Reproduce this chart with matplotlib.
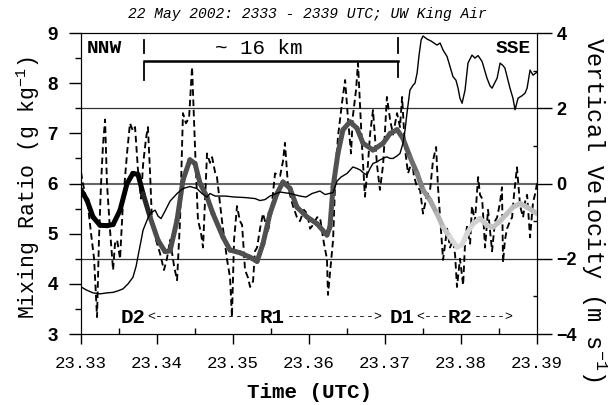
import matplotlib
matplotlib.use("Agg")
import matplotlib.pyplot as plt
import matplotlib.transforms as mtransforms
from matplotlib.collections import LineCollection
from matplotlib.ticker import MultipleLocator
import numpy as np

MONO = "Liberation Mono"
SANS = "Liberation Sans"
T0 = 23.33  # decimal hours (UTC) at the first sample

# mixing ratio (g/kg), seconds after T0
mr_sec = [0, 2.4, 5.7, 9.0, 12.3, 15.2, 17.5, 19.9, 22.3, 24.6, 26.1, 27.0, 28.4,
          29.4, 31.3, 32.7, 35.1, 36.5, 37.9, 39.8, 42.2, 45.5, 48.3, 51.6, 54.9,
          57.3, 59.7, 61.1, 63.5, 68.2, 72.9, 77.7, 82.4, 84.8, 87.2, 89.5, 94.3,
          99.0, 103.7, 106.6, 109.4, 113.2, 115.6, 119.4, 121.3, 123.2, 126.0,
          128.8, 130.7, 132.2, 134.1, 135.5, 136.9, 138.3, 140.2, 141.6, 144.0,
          144.9, 146.4, 147.8, 149.7, 151.1, 152.5, 153.5, 154.4, 155.8, 157.3,
          158.2, 159.2, 160.1, 161.1, 162.0, 163.9, 165.8, 167.2, 168.6, 170.1,
          171.5, 173.4, 174.8, 176.2, 177.6, 178.6, 179.5, 180.5, 181.9, 183.3,
          185.2, 186.6, 188.1, 190.0, 192.3, 193.7, 194.7, 197.1, 198.5, 199.9,
          200.8, 203.2, 204.6, 205.6, 207.0, 208.9, 210.3, 211.3, 212.7, 214.1, 216.0]
mr_val = [3.94, 3.88, 3.82, 3.80, 3.82, 3.83, 3.86, 3.90, 4.00, 4.13, 4.35, 4.55, 4.85,
          5.07, 5.27, 5.40, 5.47, 5.35, 5.30, 5.45, 5.65, 5.80, 5.90, 5.94, 5.90,
          5.80, 5.73, 5.80, 5.75, 5.75, 5.73, 5.72, 5.70, 5.66, 5.68, 5.75, 5.83,
          5.80, 5.75, 5.73, 5.80, 5.85, 5.78, 5.82, 6.05, 6.13, 6.20,
          6.33, 6.30, 6.27, 6.20, 6.17, 6.30, 6.40, 6.43, 6.47, 6.52,
          6.53, 6.50, 6.50, 6.55, 6.60, 6.80, 7.07, 7.40, 7.86, 7.96,
          8.00, 8.20, 8.55, 8.86, 8.94, 8.88, 8.84, 8.80, 8.76, 8.80,
          8.66, 8.53, 8.33, 8.13, 8.06, 7.90, 7.70, 7.60, 7.86, 8.40,
          8.56, 8.50, 8.55, 8.43, 8.10, 7.95, 7.90, 8.10, 8.40, 8.35,
          8.30, 7.90, 7.70, 7.47, 7.70, 7.75, 7.80, 7.90, 8.26, 8.16, 8.22]

# vertical velocity (m/s)
w_sec = [0, 0.9, 1.9, 3.3, 4.7, 6.2, 7.6, 8.5, 9.5, 10.4, 11.4, 12.3, 13.7, 15.2,
         16.1, 17.1, 18.5, 19.9, 21.8, 23.2, 24.6, 25.6, 27.0, 28.4, 29.4, 30.8,
         31.7, 32.7, 33.6, 35.5, 37.4, 39.3, 40.7, 42.2, 44.1, 45.5, 46.9, 48.3,
         49.7, 51.2, 52.6, 54.0, 55.4, 56.8, 57.8, 58.7, 59.7, 61.1, 62.1, 63.5,
         64.4, 66.8, 69.2, 70.6, 71.5, 72.5, 73.9, 75.3, 76.3, 77.7, 79.1, 80.1,
         81.5, 82.4, 83.4, 84.8, 86.2, 88.6, 90.5, 91.9, 94.3, 95.7, 96.6, 98.1,
         100.4, 102.3, 103.7, 105.6, 107.1, 108.5, 109.9, 111.8, 113.2, 115.1,
         116.5, 117.0, 117.9, 119.4, 120.3, 121.7, 123.6, 125.1, 126.5, 127.9,
         128.8, 130.3, 131.2, 133.1, 134.5, 135.9, 136.9, 138.3, 140.2, 141.6,
         143.1, 144.9, 146.4, 147.8, 149.7, 151.1, 152.1, 153.5, 154.9, 156.8,
         157.7, 159.2, 160.6, 162.0, 163.9, 165.3, 166.7, 168.2, 169.1, 170.1,
         171.5, 173.4, 174.8, 176.2, 177.2, 178.1, 179.5, 181.0, 181.9, 182.8,
         184.3, 185.2, 186.6, 188.1, 189.0, 190.0, 191.4, 192.8, 194.7, 196.1,
         197.1, 198.5, 199.4, 199.9, 200.8, 201.8, 203.2, 204.2, 205.1, 206.5,
         208.0, 209.4, 210.3, 211.3, 212.7, 214.1, 215.0, 216.0]
w_val = [0.3, 0.0, -0.25, -0.6, -1.3, -2.0, -3.55, -1.5, 0.0, 1.0, 1.7, 0.0, -1.2, -2.3,
         -1.6, -1.5, -2.0, -0.5, 0.8, 1.6, 1.4, 1.5, 0.35, -0.4, 0.5, 1.2,
         1.5, 0.3, -0.97, -1.5, -1.85, -2.3, -2.0, -1.5, -2.2, -2.57, -1.0, 1.87,
         1.6, 1.75, 3.1, 0.97, -0.97, -1.3, -1.7, -0.5, 0.8, 0.55, 0.7, 0.3,
         0.17, -1.0, -2.03, -2.5, -3.55, -1.5, -0.6, -1.0, -1.1, -2.3, -2.5, -2.75,
         -2.6, -1.8, -1.7, -1.2, -0.8, -1.3, -0.5, 0.27, 0.2, 0.6, 1.08, -0.1,
         -0.6, -0.9, -1.0, -0.7, -0.8, -1.2, -1.1, -0.9, -0.9, -1.6,
         -2.0, -2.96, -2.4, -1.5, -0.1, 1.23, 2.13, 2.75, 1.7, 0.8,
         1.8, 2.5, 3.2, 1.0, -0.35, 0.5, 1.3, 1.95, 0.5, -0.17,
         0.5, 2.3, 1.7, 1.3, 1.87, 1.5, 2.3, 0.9, 0.27, 0.6,
         0.2, -0.1, -0.17, -0.8, -0.3, -0.2, 0.6, 0.97, -0.1, -0.9,
         -2.03, -1.2, -1.7, -1.5, -1.9, -2.75, -2.0, -2.7, -1.6, -1.15,
         -1.6, -0.6, -1.0, 0.17, -0.3, -0.4, -1.7, -0.7, -1.8, -1.0,
         -0.9, -0.5, -0.1, -2.1, -1.5, -1.2, -1.0, -0.9, -0.3, 0.43,
         -0.6, -0.9, -0.5, -0.3, -1.43, -0.5, -0.3, 0.0]

# filtered vertical velocity (m/s)
ws_sec = [0, 2.8, 5.7, 9.0, 12.3, 15.2, 18.5, 21.8, 24.6, 27.0, 29.4, 32.7, 36.5,
          39.8, 42.2, 45.5, 48.3, 51.6, 54.0, 56.4, 59.7, 62.5, 67.3, 70.6, 75.3,
          80.1, 83.4, 86.2, 89.5, 92.8, 95.7, 99.0, 102.3, 107.1, 111.8, 116.5,
          117.9, 119.4, 121.7, 124.1, 127.4, 130.7, 133.6, 138.3, 143.1, 146.4,
          149.7, 152.5, 155.8, 159.2, 162.0, 165.3, 168.6, 171.5, 174.8, 178.1,
          180.5, 182.8, 185.7, 189.0, 192.3, 195.2, 198.5, 201.8, 204.6, 208.0,
          211.3, 216.0]
ws_val = [-0.17, -0.44, -0.89, -1.11, -1.12, -1.09, -0.71, 0.0, 0.27, 0.24, -0.27,
          -0.89, -1.51, -1.81, -1.79, -0.97, 0.09, 0.63, 0.53, 0.0, -0.36, -0.8,
          -1.43, -1.77, -1.84, -1.96, -2.07, -1.6, -0.8, -0.27, 0.04, -0.13, -0.63,
          -0.89, -1.07, -1.37, -1.16, -0.09, 0.8, 1.43, 1.64, 1.47, 1.07, 0.89,
          1.07, 1.33, 1.43, 1.2, 0.71, 0.27, -0.17, -0.44, -0.8, -1.16, -1.43,
          -1.69, -1.63, -1.33, -1.07, -0.93, -1.11, -1.16, -1.0, -0.8, -0.63,
          -0.53, -0.63, -0.8]

# grey shade of the filtered curve along the leg (0 = black)
shade_sec = [0, 28, 34, 153, 165, 177, 184, 196, 216]
shade_gray = [0.0, 0.0, 0.30, 0.33, 0.60, 0.86, 0.84, 0.76, 0.74]

leg_sec = [29.8, 150.2]            # ~16 km straight-line segment
region_sec = [24.6, 90.5, 152.1, 179.5]
region_lbl = ["D2", "R1", "D1", "R2"]
arrow_sec = [31.3, 97.6, 158.7, 186.2]
arrow_txt = ["<-------------", "----------->", "<---", "---->"]

x_ticks = [23.33, 23.34, 23.35, 23.36, 23.37, 23.38, 23.39]
mr_ticks = [3, 4, 5, 6, 7, 8, 9]
w_ticks = [-4, -2, 0, 2, 4]


def hours(sec):
    return T0 + np.asarray(sec) / 3600.0


plt.rcParams["mathtext.default"] = "regular"

fig = plt.figure(figsize=(6.15, 4.05), dpi=100)
ax = fig.add_axes([0.1317, 0.1753, 0.7415, 0.7432])
ax2 = ax.twinx()
ax.set_zorder(ax2.get_zorder() + 1)
ax.patch.set_visible(False)

# reference lines at +/-2 and 0 m/s
for v, lw, c in [(2, 0.9, "#333333"), (0, 1.5, "#666666"), (-2, 0.9, "#333333")]:
    ax2.axhline(v, color=c, lw=lw, zorder=1)

ax2.plot(hours(w_sec), w_val, color="black", lw=1.35, dashes=(3.5, 2), zorder=2)

# filtered w as a thick line shaded black -> grey
pts = np.column_stack([hours(ws_sec), ws_val]).reshape(-1, 1, 2)
segs = np.concatenate([pts[:-1], pts[1:]], axis=1)
mid = (np.asarray(ws_sec[:-1]) + np.asarray(ws_sec[1:])) / 2
g = np.interp(mid, shade_sec, shade_gray)
lc = LineCollection(segs, colors=[(v, v, v) for v in g], linewidths=3.6,
                    capstyle="round", joinstyle="round", zorder=3)
ax2.add_collection(lc)

ax.plot(hours(mr_sec), mr_val, color="black", lw=1.0)

ax.set_xlim(T0, 23.39)
ax.set_ylim(3, 9)
ax2.set_ylim(-4, 4)

ax.set_xticks(x_ticks)
ax.set_xticklabels([f"{t:.2f}" for t in x_ticks], fontfamily=MONO, fontsize=12.5)
ax.xaxis.set_minor_locator(MultipleLocator(0.005))
ax.tick_params(axis="x", which="major", direction="out", length=7, width=1, pad=9)
ax.tick_params(axis="x", which="minor", direction="in", length=4, width=1)

ax.set_yticks(mr_ticks)
ax.set_yticklabels([str(t) for t in mr_ticks], fontfamily=SANS, fontweight="bold", fontsize=13.5)
ax.yaxis.set_minor_locator(MultipleLocator(0.5))
ax.tick_params(axis="y", which="major", direction="out", length=8.5, width=1, pad=8)
ax.tick_params(axis="y", which="minor", direction="out", length=4, width=1)

ax2.set_yticks(w_ticks)
ax2.set_yticklabels([str(t).replace("-", "\u2212") for t in w_ticks],
                    fontfamily=SANS, fontweight="bold", fontsize=13)
ax2.yaxis.set_minor_locator(MultipleLocator(1))
ax2.tick_params(axis="y", which="major", direction="out", length=11, width=1, pad=3)
ax2.tick_params(axis="y", which="minor", direction="in", length=3, width=1)

trans = mtransforms.blended_transform_factory(ax.transData, ax.transAxes)
x0, x1 = hours(leg_sec)
line_kw = dict(transform=trans, color="black", clip_on=False)
ax.plot([x0, x0], [0.977, 0.934], lw=1.3, **line_kw)
ax.plot([x0, x0], [0.900, 0.844], lw=1.3, **line_kw)
ax.plot([x1, x1], [0.983, 0.934], lw=1.3, **line_kw)
ax.plot([x1, x1], [0.900, 0.854], lw=1.3, **line_kw)
ax.plot([x0, x1], [0.907, 0.907], lw=1.8, **line_kw)
ax.text(hours(84), 0.947, "~ 16 km", transform=trans, ha="center", va="center",
        fontfamily=MONO, fontsize=15)

ax.text(0.013, 0.947, "NNW", transform=ax.transAxes, ha="left", va="center",
        fontfamily=MONO, fontweight="bold", fontsize=14)
ax.text(0.987, 0.947, "SSE", transform=ax.transAxes, ha="right", va="center",
        fontfamily=MONO, fontweight="bold", fontsize=14)

for s, lbl in zip(region_sec, region_lbl):
    ax.text(hours(s), 0.056, lbl, transform=trans, ha="center", va="center",
            fontfamily=MONO, fontweight="bold", fontsize=15)
for s, txt in zip(arrow_sec, arrow_txt):
    ax.text(hours(s), 0.056, txt, transform=trans, ha="left", va="center",
            fontfamily=MONO, fontsize=9.5)

fig.text(0.499, 0.965, "22 May 2002: 2333 - 2339 UTC; UW King Air", ha="center",
         va="center", fontfamily=MONO, fontstyle="italic", fontsize=10.5)
fig.text(0.504, 0.032, "Time (UTC)", ha="center", va="center",
         fontfamily=MONO, fontweight="bold", fontsize=15)
fig.text(0.0455, 0.536, "Mixing Ratio (g kg$^{-1}$)", rotation=90, ha="center",
         va="center", fontfamily=MONO, fontsize=15.5)
fig.text(0.966, 0.482, "Vertical Velocity (m s$^{-1}$)", rotation=270, ha="center",
         va="center", fontfamily=MONO, fontsize=17)

fig.savefig("out.png", dpi=100)
